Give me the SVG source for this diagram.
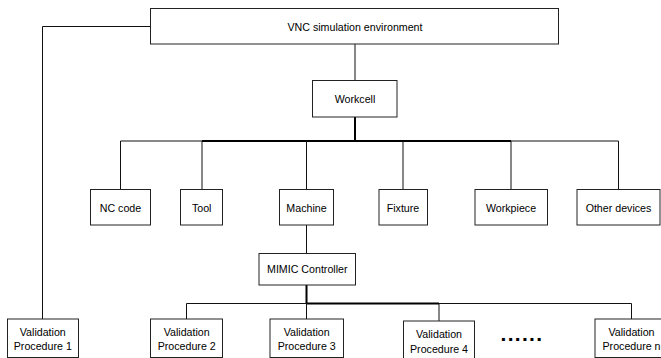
<svg xmlns="http://www.w3.org/2000/svg" width="661" height="358" viewBox="0 0 661 358">
<style>
.box{fill:#fff;stroke:#222;stroke-width:1}
.t{font-family:"Liberation Sans",Arial,sans-serif;font-size:10.67px;fill:#000;text-anchor:middle}
.ln{fill:none;stroke:#111;stroke-width:1}
.thk{fill:none;stroke:#000;stroke-width:2}
.dots{font-family:"Liberation Sans",Arial,sans-serif;font-size:21px;font-weight:bold;fill:#000;letter-spacing:1.3px}
</style>
<rect width="661" height="358" fill="#fff"/>
<g id="connectors">
<path class="ln" d="M150.5 26.5H42.5V319"/>
<path class="ln" d="M355 44V80.5"/>
<path class="thk" d="M355 117V141"/>
<path class="ln" d="M120.5 189.5V141H202"/>
<path class="thk" d="M202 141H511"/>
<path class="ln" d="M511 141H618.5V189.5"/>
<path class="ln" d="M202 141V189.5M306.5 141V189.5M403 141V189.5M511 141V189.5"/>
<path class="ln" d="M306.5 225V253.5"/>
<path class="thk" d="M306.5 285V303.5"/>
<path class="ln" d="M186.5 319V303.5H306.5"/>
<path class="thk" d="M306.5 303.5H439"/>
<path class="ln" d="M439 303.5H631.5V319"/>
<path class="ln" d="M306.5 303.5V319M439 303.5V321"/>
</g>
<g id="vnc"><rect class="box" x="150.5" y="8.5" width="408" height="35.5"/><text class="t" x="355" y="30.5">VNC simulation environment</text></g>
<g id="workcell"><rect class="box" x="312.5" y="80.5" width="84.5" height="36.5"/><text class="t" x="355" y="103">Workcell</text></g>
<g id="nccode"><rect class="box" x="90.5" y="189.5" width="60" height="35.5"/><text class="t" x="120.5" y="211.5">NC code</text></g>
<g id="tool"><rect class="box" x="180.5" y="189.5" width="42" height="35.5"/><text class="t" x="201.7" y="211.5">Tool</text></g>
<g id="machine"><rect class="box" x="279.5" y="189.5" width="54" height="35.5"/><text class="t" x="306.5" y="211.5">Machine</text></g>
<g id="fixture"><rect class="box" x="379" y="189.5" width="48.5" height="35.5"/><text class="t" x="403" y="211.5">Fixture</text></g>
<g id="workpiece"><rect class="box" x="475" y="189.5" width="72.5" height="35.5"/><text class="t" x="511" y="211.5">Workpiece</text></g>
<g id="otherdevices"><rect class="box" x="577" y="189.5" width="83" height="35.5"/><text class="t" x="618.5" y="211.5">Other devices</text></g>
<g id="mimic"><rect class="box" x="259" y="253.5" width="96.5" height="31.5"/><text class="t" x="307.3" y="273">MIMIC Controller</text></g>
<g id="vp1"><rect class="box" x="7.5" y="319" width="71" height="38.5"/><text class="t" x="42.8" y="336">Validation</text><text class="t" x="42.8" y="350">Procedure 1</text></g>
<g id="vp2"><rect class="box" x="150.5" y="319" width="72" height="38.5"/><text class="t" x="186.7" y="336">Validation</text><text class="t" x="186.7" y="350">Procedure 2</text></g>
<g id="vp3"><rect class="box" x="270" y="319" width="73.5" height="38.5"/><text class="t" x="306.7" y="336">Validation</text><text class="t" x="306.7" y="350">Procedure 3</text></g>
<g id="vp4"><rect class="box" x="403.5" y="321" width="71" height="38"/><text class="t" x="439" y="338">Validation</text><text class="t" x="439" y="353">Procedure 4</text></g>
<g id="ellipsis"><text class="dots" x="500.5" y="340.5">......</text></g>
<g id="vpn"><rect class="box" x="595" y="319" width="73" height="38.5"/><text class="t" x="631.5" y="336">Validation</text><text class="t" x="631.5" y="350">Procedure n</text></g>
</svg>
